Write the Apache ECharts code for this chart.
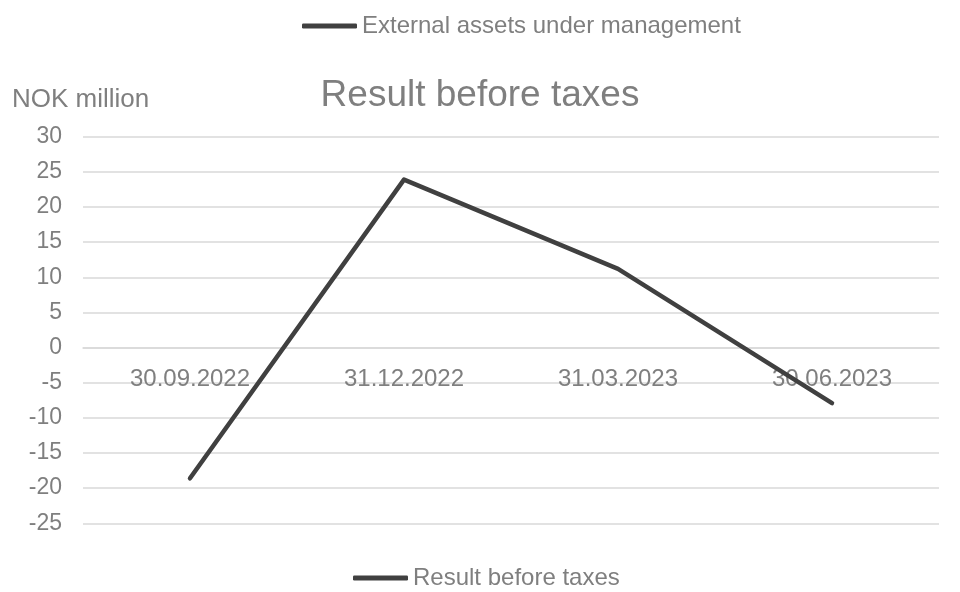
<!DOCTYPE html>
<html>
<head>
<meta charset="utf-8">
<script src="https://cdn.jsdelivr.net/npm/echarts@6/dist/echarts.min.js"></script>
<style>html,body{margin:0;padding:0;background:#fff}#c{width:960px;height:592px}</style>
</head>
<body>
<div id="c"></div>
<script>
const categories = ['30.09.2022', '31.12.2022', '31.03.2023', '30.06.2023'];
const resultBeforeTaxes = [-18.6, 23.9, 11.2, -7.9];
const externalAssets = [];
const yMin = -25, yMax = 30, yStep = 5;

const gray = '#7f7f7f';
const font = 'Liberation Sans, Arial, sans-serif';
const gridTop = 136.7, gridBottom = 68.7, chartH = 592;
const plotH = chartH - gridTop - gridBottom;
const zeroOffset = -plotH * (0 - yMin) / (yMax - yMin);

const chart = echarts.init(document.getElementById('c'), null, {renderer: 'canvas'});
chart.setOption({
  animation: false,
  backgroundColor: '#fff',
  title: [
    {text: 'Result before taxes', left: 'center', top: 77, padding: 0,
     textStyle: {color: gray, fontFamily: font, fontSize: 37, fontWeight: 'normal'}},
    {text: 'NOK million', left: 12, top: 87, padding: 0,
     textStyle: {color: gray, fontFamily: font, fontSize: 26, fontWeight: 'normal'}}
  ],
  legend: [
    {data: ['External assets under management'], top: 14, left: 302, padding: 0,
     icon: 'roundRect', itemWidth: 55, itemHeight: 5,
     textStyle: {color: gray, fontFamily: font, fontSize: 24}},
    {data: ['Result before taxes'], top: 566, left: 353, padding: 0,
     icon: 'roundRect', itemWidth: 55, itemHeight: 5,
     textStyle: {color: gray, fontFamily: font, fontSize: 24}}
  ],
  grid: {left: 83, right: 21, top: gridTop, bottom: gridBottom, containLabel: false},
  xAxis: {
    type: 'category', data: categories, boundaryGap: true,
    offset: zeroOffset,
    axisLine: {show: true, onZero: false, lineStyle: {color: '#d9d9d9', width: 1.5}},
    axisTick: {show: false},
    axisLabel: {color: gray, fontFamily: font, fontSize: 24, margin: 20},
    splitLine: {show: false}
  },
  yAxis: {
    type: 'value', min: yMin, max: yMax, interval: yStep,
    axisLine: {show: false}, axisTick: {show: false},
    axisLabel: {color: gray, fontFamily: font, fontSize: 23, margin: 21},
    splitLine: {show: true, lineStyle: {color: '#d9d9d9', width: 1.5}}
  },
  series: [
    {name: 'External assets under management', type: 'line', data: externalAssets,
     color: '#404040', lineStyle: {width: 5}, showSymbol: false},
    {name: 'Result before taxes', type: 'line', data: resultBeforeTaxes,
     color: '#404040', lineStyle: {width: 4.5, cap: 'round', join: 'round'},
     showSymbol: false, symbol: 'none'}
  ]
});
</script>
</body>
</html>
